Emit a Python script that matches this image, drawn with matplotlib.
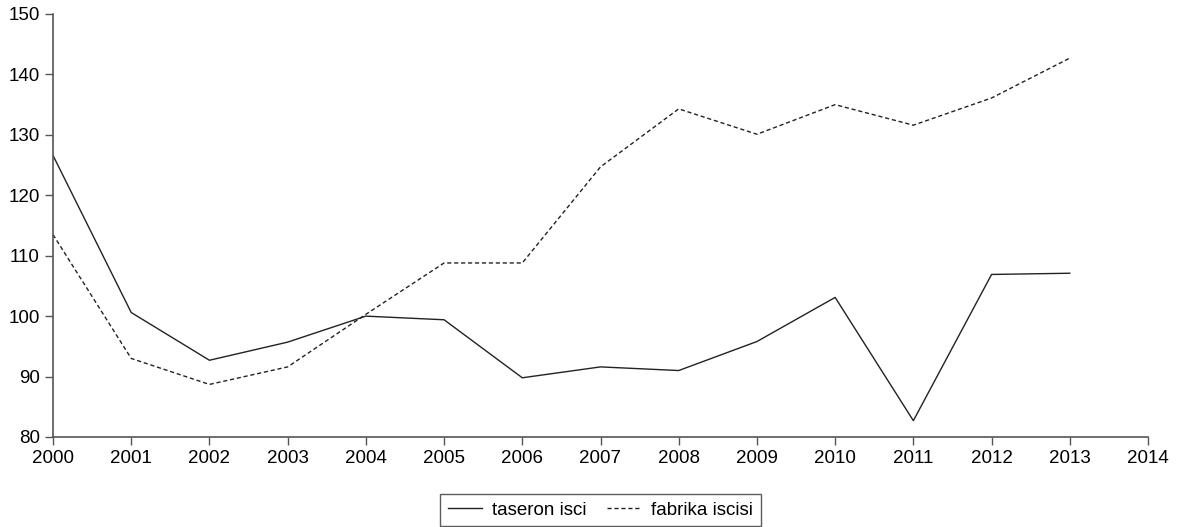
import matplotlib.pyplot as plt

years = list(range(2000, 2014))
taseron = [126.6, 100.6, 92.7, 95.7, 100.0, 99.4, 89.8, 91.6, 91.0, 95.8, 103.1, 82.7, 106.9, 107.1]
fabrika = [113.5, 93.0, 88.7, 91.6, 100.3, 108.8, 108.8, 124.7, 134.3, 130.1, 135.0, 131.6, 136.1, 142.7]
xticks = list(range(2000, 2015))
yticks = [80, 90, 100, 110, 120, 130, 140, 150]

plt.rcParams['font.family'] = ['Liberation Sans', 'DejaVu Sans']

fig = plt.figure(figsize=(11.86, 5.27), dpi=100)
ax = fig.add_axes([53 / 1186, 1 - 437 / 527, (1148 - 53) / 1186, (437 - 14) / 527])

ax.plot(years, taseron, color='#222222', lw=1.0, label='taseron isci')
ax.plot(years, fabrika, color='#222222', lw=1.0, ls=(0, (3, 2)), label='fabrika iscisi')

ax.set_xlim(2000, 2014)
ax.set_ylim(80, 150)
ax.set_xticks(xticks)
ax.set_yticks(yticks)
ax.tick_params(labelsize=13.5, length=6, width=1, color='#555555', labelcolor='black')
for side in ('top', 'right'):
	ax.spines[side].set_visible(False)
for side in ('left', 'bottom'):
	ax.spines[side].set_color('#555555')
	ax.spines[side].set_linewidth(1.2)

leg = ax.legend(loc='upper center', bbox_to_anchor=(0.5, -0.135), ncol=2, frameon=True,
	fancybox=False, fontsize=13.5, handlelength=1.8, columnspacing=1.1, borderpad=0.4,
	handletextpad=0.55, borderaxespad=0)
leg.get_frame().set_edgecolor('#333333')
leg.get_frame().set_linewidth(1.0)

fig.savefig('out.png', dpi=100)
